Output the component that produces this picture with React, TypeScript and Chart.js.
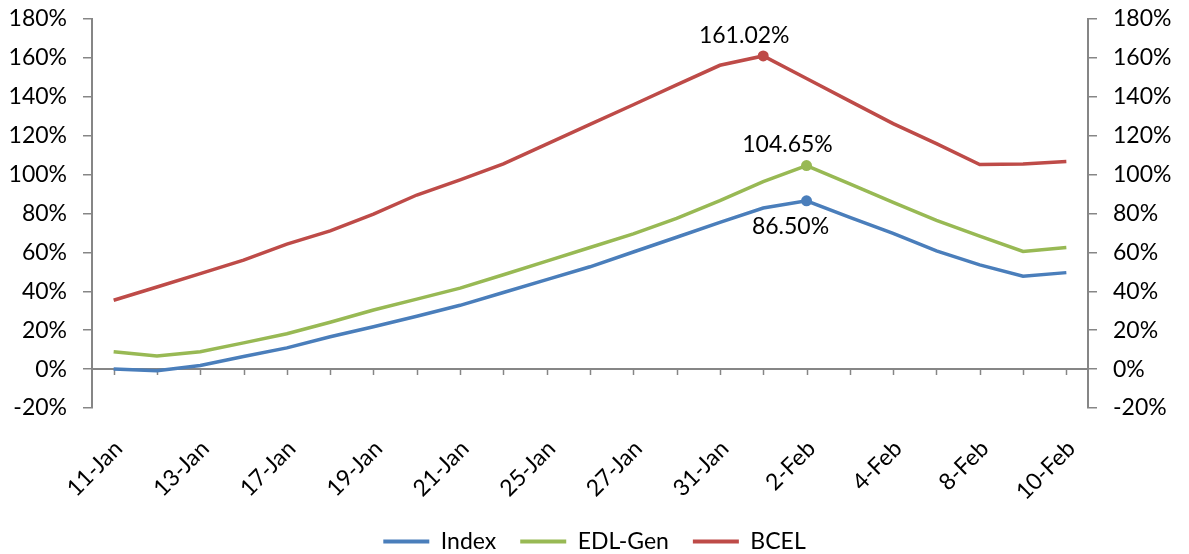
import React, { useEffect, useRef } from 'react';
import { Chart, registerables } from 'chart.js';

Chart.register(...registerables);

const categories = [
  '11-Jan', '12-Jan', '13-Jan', '14-Jan', '17-Jan', '18-Jan', '19-Jan', '20-Jan', '21-Jan',
  '24-Jan', '25-Jan', '26-Jan', '27-Jan', '28-Jan', '31-Jan', '1-Feb', '2-Feb', '3-Feb',
  '4-Feb', '7-Feb', '8-Feb', '9-Feb', '10-Feb',
];

const indexValues = [
  0, -0.9, 1.9, 6.5, 10.9, 16.6, 21.8, 27.2, 32.8, 39.4, 46.0, 52.6, 60.2, 67.8, 75.4, 82.8,
  86.5, 78.0, 69.8, 60.8, 53.6, 47.8, 49.6,
];

const edlGenValues = [
  8.9, 6.7, 8.9, 13.5, 18.2, 24.1, 30.4, 36.0, 41.6, 48.5, 55.5, 62.5, 69.5, 77.5, 86.6, 96.4,
  104.65, 95.2, 85.7, 76.5, 68.4, 60.5, 62.5,
];

const bcelValues = [
  35.4, 42.2, 49.1, 56.0, 64.3, 71.1, 79.7, 89.5, 97.3, 105.5, 115.7, 125.8, 135.9, 146.1, 156.2,
  161.02, 149.4, 137.8, 126.2, 115.9, 105.2, 105.5, 106.7,
];

const seriesNames = ['Index', 'EDL-Gen', 'BCEL'];
const seriesColors = ['#4A7EBB', '#98B954', '#BE4B48'];
// index of the point that carries a marker and a value label, per series
const labeledPoint = [16, 16, 15];
const labelBelow = [true, false, false];

const yMin = -20;
const yMax = 180;
const yStep = 20;

const FONT = 'Lato, "Open Sans", sans-serif';
const FONT_SIZE = 23;
const AXIS_COLOR = '#868686';

const zeroAxisPlugin = {
  id: 'zeroAxis',
  beforeDatasetsDraw(chart: any) {
    const { ctx, chartArea, scales } = chart;
    const x = scales.x;
    const y = scales.y;
    const y0 = y.getPixelForValue(0);
    ctx.save();
    ctx.strokeStyle = AXIS_COLOR;
    ctx.lineWidth = 2;
    ctx.beginPath();
    ctx.moveTo(chartArea.left, y0);
    ctx.lineTo(chartArea.right, y0);
    ctx.stroke();
    ctx.lineWidth = 1.5;
    ctx.beginPath();
    for (let i = 0; i < categories.length; i++) {
      const px = Math.round(x.getPixelForValue(i)) + 0.5;
      ctx.moveTo(px, y0);
      ctx.lineTo(px, y0 + 6);
    }
    ctx.stroke();
    ctx.restore();
  },
};

const valueLabelPlugin = {
  id: 'valueLabels',
  afterDatasetsDraw(chart: any) {
    const { ctx } = chart;
    ctx.save();
    ctx.font = `${FONT_SIZE}px ${FONT}`;
    ctx.fillStyle = '#000';
    ctx.textAlign = 'center';
    chart.data.datasets.forEach((ds: any, di: number) => {
      const idx = labeledPoint[di];
      const pt = chart.getDatasetMeta(di).data[idx];
      if (!pt) return;
      const text = Number(ds.data[idx]).toFixed(2) + '%';
      if (labelBelow[di]) {
        ctx.textBaseline = 'top';
        ctx.fillText(text, pt.x - 16, pt.y + 14);
      } else {
        ctx.textBaseline = 'bottom';
        ctx.fillText(text, pt.x - 19, pt.y - 9);
      }
    });
    ctx.restore();
  },
};

const fitY = (width: number) => (s: any) => {
  s.width = width;
  s.paddingTop = 0;
  s.paddingBottom = 0;
};

export default function App() {
  const canvasRef = useRef<HTMLCanvasElement | null>(null);

  useEffect(() => {
    const canvas = canvasRef.current;
    if (!canvas) return;
    const seriesValues = [indexValues, edlGenValues, bcelValues];
    const yAxis = (position: string, width: number) => ({
      position,
      min: yMin,
      max: yMax,
      grid: {
        drawOnChartArea: false,
        drawTicks: true,
        tickLength: 9,
        color: AXIS_COLOR,
        lineWidth: 1.5,
      },
      border: { display: true, color: AXIS_COLOR, width: 2 },
      ticks: {
        stepSize: yStep,
        padding: 16,
        color: '#000',
        font: { family: FONT, size: FONT_SIZE },
        callback: (v: any) => `${v}%`,
      },
      afterFit: fitY(width),
    });
    const chart = new Chart(canvas, {
      type: 'line',
      data: {
        labels: categories,
        datasets: seriesNames.map((name, i) => ({
          label: name,
          data: seriesValues[i],
          borderColor: seriesColors[i],
          backgroundColor: seriesColors[i],
          borderWidth: 3.5,
          tension: 0,
          fill: false,
          pointRadius: (c: any) => (c.dataIndex === labeledPoint[i] ? 5.5 : 0),
          pointHoverRadius: (c: any) => (c.dataIndex === labeledPoint[i] ? 5.5 : 0),
          pointBackgroundColor: seriesColors[i],
          pointBorderColor: seriesColors[i],
          pointBorderWidth: 0,
          yAxisID: 'y',
        })),
      },
      options: {
        responsive: false,
        animation: false,
        devicePixelRatio: 1,
        layout: { padding: { top: 19, left: 0, right: 0, bottom: -9 } },
        plugins: {
          tooltip: { enabled: false },
          legend: {
            position: 'bottom',
            labels: {
              boxWidth: 46,
              boxHeight: 4,
              padding: 24,
              color: '#000',
              font: { family: FONT, size: FONT_SIZE },
              generateLabels: (ch: any) =>
                Chart.defaults.plugins.legend.labels
                  .generateLabels(ch)
                  .map((l: any) => ({ ...l, lineWidth: 0 })),
            },
          },
        },
        scales: {
          x: {
            type: 'category',
            offset: true,
            grid: { display: false, drawTicks: false },
            border: { display: false },
            ticks: {
              autoSkip: false,
              maxRotation: 45,
              minRotation: 45,
              padding: 27,
              labelOffset: 5,
              color: '#000',
              font: { family: FONT, size: FONT_SIZE },
              callback: (_v: any, idx: number) => (idx % 2 === 0 ? categories[idx] : ''),
            },
            afterFit: (s: any) => {
              s.height = 98;
            },
          },
          y: yAxis('left', 92),
          y2: yAxis('right', 101),
        },
      } as any,
      plugins: [zeroAxisPlugin, valueLabelPlugin],
    });
    return () => chart.destroy();
  }, []);

  return (
    <div style={{ position: 'fixed', left: 0, top: 0, width: 1189, height: 554, background: '#fff' }}>
      <canvas ref={canvasRef} width={1189} height={554} />
    </div>
  );
}
